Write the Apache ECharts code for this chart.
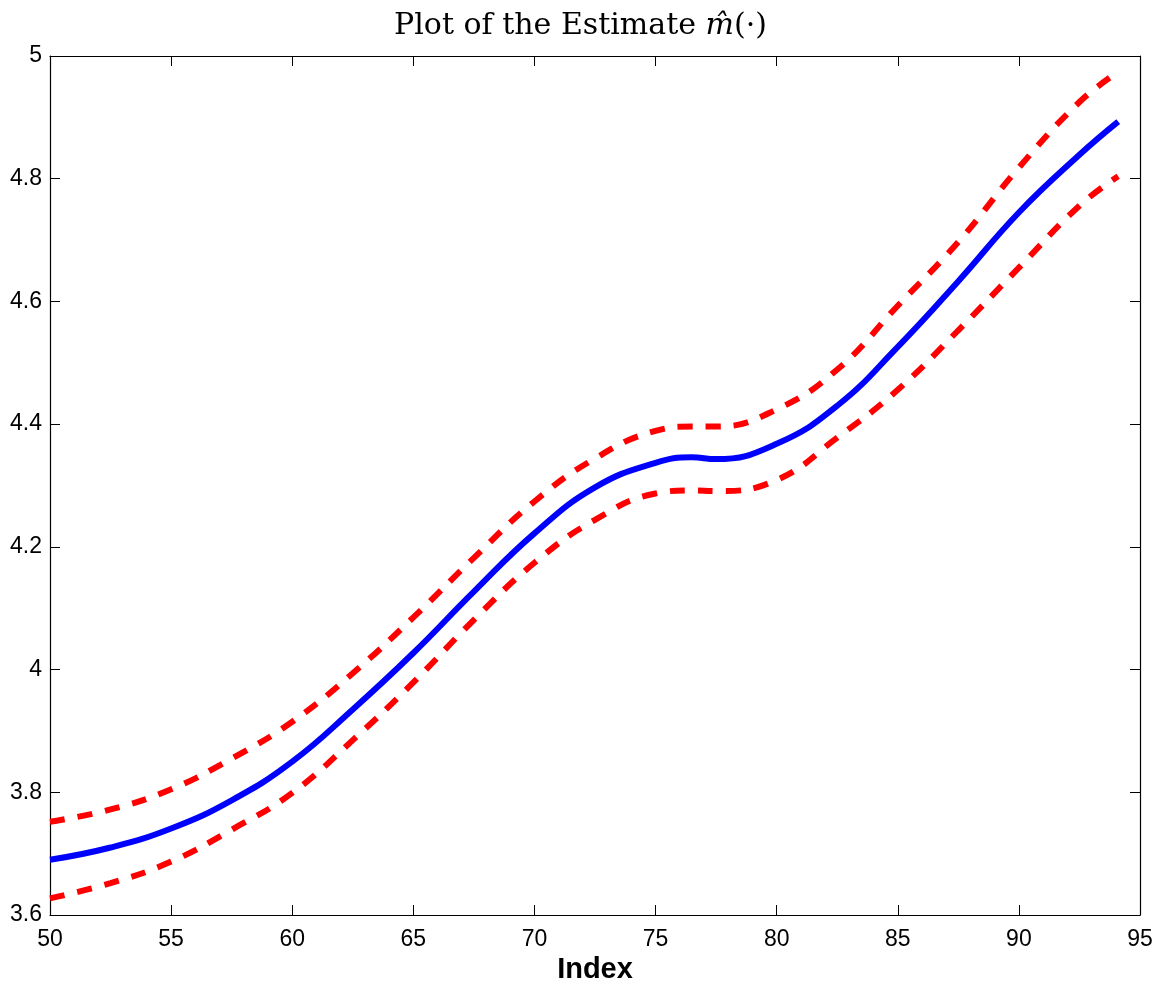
<!DOCTYPE html>
<html>
<head>
<meta charset="utf-8">
<script src="https://cdn.jsdelivr.net/npm/echarts@6/dist/echarts.min.js"></script>
<style>html,body{margin:0;padding:0;background:#fff}#c{width:1161px;height:987px}</style>
</head>
<body>
<div id="c"></div>
<script>
const xValues = [50, 52.5, 55, 57.5, 60, 62.5, 65, 67.5, 70, 72.5, 75, 76.5, 77.5, 80, 82.5, 85, 87.5, 90, 92.5, 94.1];
const estimate = [3.690, 3.710, 3.741, 3.787, 3.850, 3.935, 4.027, 4.127, 4.222, 4.297, 4.337, 4.346, 4.343, 4.368, 4.430, 4.526, 4.633, 4.745, 4.839, 4.893];
const upperBand = [3.752, 3.772, 3.805, 3.855, 3.915, 3.994, 4.085, 4.182, 4.274, 4.344, 4.389, 4.396, 4.396, 4.424, 4.489, 4.593, 4.697, 4.818, 4.925, 4.974];
const lowerBand = [3.627, 3.652, 3.687, 3.739, 3.799, 3.885, 3.979, 4.081, 4.174, 4.244, 4.287, 4.292, 4.291, 4.309, 4.378, 4.456, 4.553, 4.655, 4.756, 4.804];
const xTicks = [50, 55, 60, 65, 70, 75, 80, 85, 90, 95];
const yTicks = [3.6, 3.8, 4, 4.2, 4.4, 4.6, 4.8, 5];

const pairs = arr => xValues.map((x, i) => [x, arr[i]]);
const axisLine = {show: true, lineStyle: {color: '#000', width: 1.2}};
const tick = {show: true, inside: true, length: 10, lineStyle: {color: '#000', width: 1}};
const lab = {fontFamily: '"Liberation Sans", Arial, sans-serif', fontSize: 23, color: '#000'};

const chart = echarts.init(document.getElementById('c'), null, {renderer: 'canvas'});
chart.setOption({
  animation: false,
  backgroundColor: '#fff',
  title: {
    text: 'Plot of the Estimate {i|m\u0302}(\u00b7)',
    left: 'center',
    top: 6,
    textStyle: {
      fontFamily: '"DejaVu Serif", "Liberation Serif", serif',
      fontSize: 30, fontWeight: 'normal', color: '#000',
      rich: {i: {fontFamily: '"DejaVu Serif", "Liberation Serif", serif', fontSize: 30, fontStyle: 'italic', color: '#000'}}
    }
  },
  grid: {left: 50, right: 21, top: 56, bottom: 72, containLabel: false, outerBoundsMode: 'none'},
  xAxis: [{
    type: 'value', min: 50, max: 95, interval: 5, position: 'bottom',
    axisLine, axisTick: tick, splitLine: {show: false},
    axisLabel: Object.assign({margin: 13}, lab),
    name: 'Index', nameLocation: 'middle', nameGap: 38,
    nameTextStyle: {fontFamily: '"Liberation Sans", Arial, sans-serif', fontSize: 29, fontWeight: 'bold', color: '#000'}
  }, {
    type: 'value', min: 50, max: 95, interval: 5, position: 'top',
    axisLine, axisTick: tick, splitLine: {show: false}, axisLabel: {show: false}
  }],
  yAxis: [{
    type: 'value', min: 3.6, max: 5, interval: 0.2, position: 'left',
    axisLine, axisTick: tick, splitLine: {show: false},
    axisLabel: Object.assign({margin: 8}, lab)
  }, {
    type: 'value', min: 3.6, max: 5, interval: 0.2, position: 'right',
    axisLine, axisTick: tick, splitLine: {show: false}, axisLabel: {show: false}
  }],
  series: [{
    type: 'line', data: pairs(upperBand), smooth: 0.45, showSymbol: false,
    lineStyle: {color: '#ff0000', width: 6, type: [15, 13], cap: 'butt'}
  }, {
    type: 'line', data: pairs(lowerBand), smooth: 0.45, showSymbol: false,
    lineStyle: {color: '#ff0000', width: 6, type: [15, 13], cap: 'butt'}
  }, {
    type: 'line', data: pairs(estimate), smooth: 0.45, showSymbol: false,
    lineStyle: {color: '#0000ff', width: 6}
  }]
});
</script>
</body>
</html>
